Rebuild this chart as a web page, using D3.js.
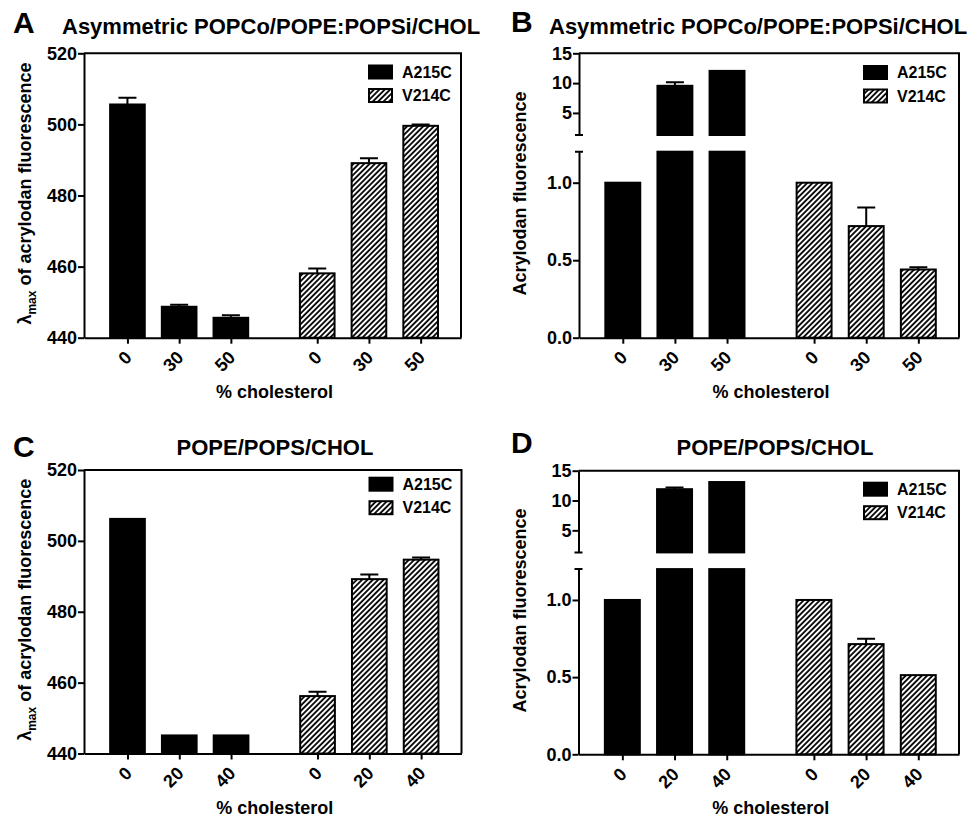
<!DOCTYPE html>
<html>
<head>
<meta charset="utf-8">
<script src="https://cdn.jsdelivr.net/npm/d3@7"></script>
<style>
body { margin: 0; background: #fff; }
svg text { font-family: "Liberation Sans", Arial, sans-serif; font-weight: bold; fill: #000; }
</style>
</head>
<body>
<div id="chart"></div>
<script>
let width = 969;
let height = 819;

// datos
const series = ["A215C", "V214C"];
const ticksAsym = ["0", "30", "50"];
const ticksSym = ["0", "20", "40"];
const titleAsym = "Asymmetric POPCo/POPE:POPSi/CHOL";
const titleSym = "POPE/POPS/CHOL";

const lambdaA_A215C = [505.6, 448.7, 445.6];
const lambdaA_A215C_err = [1.9, 0.6, 0.7];
const lambdaA_V214C = [458.1, 489.1, 499.6];
const lambdaA_V214C_err = [1.4, 1.4, 0.4];

const fluoB_A215C = [1.0, 9.55, 12.05];
const fluoB_A215C_err = [0, 0.6, 0];
const fluoB_V214C = [1.0, 0.72, 0.44];
const fluoB_V214C_err = [0, 0.12, 0.015];

const lambdaC_A215C = [506.2, 445.1, 445.1];
const lambdaC_A215C_err = [0, 0, 0];
const lambdaC_V214C = [456.2, 489.2, 494.7];
const lambdaC_V214C_err = [1.2, 1.3, 0.6];

const fluoD_A215C = [1.0, 11.9, 13.1];
const fluoD_A215C_err = [0, 0.3, 0];
const fluoD_V214C = [1.0, 0.714, 0.513];
const fluoD_V214C_err = [0, 0.035, 0];

const lambdaTicks = [440, 460, 480, 500, 520];
const fluoLowTicks = [0, 0.5, 1.0];
const fluoHighTicks = [5, 10, 15];

const panels = [
    {letter: "A", title: titleAsym, left: 84, right: 461, top: 53.3, bottom: 337.7, broken: false,
     means: [lambdaA_A215C, lambdaA_V214C], errs: [lambdaA_A215C_err, lambdaA_V214C_err], ticks: ticksAsym,
     letterPos: [13, 33], titlePos: [62, 34, "start"], legendTop: 64.5, legendDx: 93},
    {letter: "B", title: titleAsym, left: 579, right: 959, top: 53.3, bottom: 337.7, broken: true,
     means: [fluoB_A215C, fluoB_V214C], errs: [fluoB_A215C_err, fluoB_V214C_err], ticks: ticksAsym,
     letterPos: [511, 32], titlePos: [549, 34, "start"], legendTop: 65, legendDx: 96},
    {letter: "C", title: titleSym, left: 84, right: 461.5, top: 470, bottom: 753.5, broken: false,
     means: [lambdaC_A215C, lambdaC_V214C], errs: [lambdaC_A215C_err, lambdaC_V214C_err], ticks: ticksSym,
     letterPos: [13, 456.5], titlePos: [275, 455, "middle"], legendTop: 476.7, legendDx: 93},
    {letter: "D", title: titleSym, left: 578.5, right: 959, top: 470.7, bottom: 754.3, broken: true,
     means: [fluoD_A215C, fluoD_V214C], errs: [fluoD_A215C_err, fluoD_V214C_err], ticks: ticksSym,
     letterPos: [511, 453], titlePos: [775, 455, "middle"], legendTop: 481.7, legendDx: 96}
];

let svg = d3.select("#chart").append("svg")
    .attr("width", width)
    .attr("height", height);

// rayado de las barras V214C
let pat = svg.append("defs").append("pattern")
    .attr("id", "hatch")
    .attr("patternUnits", "userSpaceOnUse")
    .attr("width", 3.8)
    .attr("height", 3.8)
    .attr("patternTransform", "rotate(45)");
pat.append("rect").attr("width", 3.8).attr("height", 3.8).attr("fill", "#fff");
pat.append("line").attr("x1", 1).attr("y1", 0).attr("x2", 1).attr("y2", 3.8)
    .attr("stroke", "#000").attr("stroke-width", 1.8);

panels.forEach(drawPanel);

function fillFor(s) {
    return s == 0 ? "#000" : "url(#hatch)";
}

function styleAxis(sel, size) {
    sel.attr("font-size", size).attr("font-family", null);
    sel.select(".domain").attr("stroke", "#000").attr("stroke-width", 2);
    sel.selectAll(".tick line").attr("stroke", "#000").attr("stroke-width", 2);
    sel.selectAll(".tick text").attr("fill", "#000");
}

function drawPanel(p) {
    let g = svg.append("g");
    let x = d3.scaleLinear().domain([-0.84, 6.45]).range([p.left, p.right]);
    let bw = x(0.67) - x(0);

    let bars = [];
    p.means.forEach(function(m, s) {
        m.forEach(function(v, i) {
            bars.push({series: s, slot: s * 3.67 + i, value: v, err: p.errs[s][i], label: p.ticks[i]});
        });
    });

    let barG = g.append("g");
    let errG = g.append("g");

    function drawBar(d, y, y0, yTop) {
        barG.append("rect")
            .attr("x", x(d.slot) - bw / 2)
            .attr("width", bw)
            .attr("y", yTop)
            .attr("height", y0 - yTop)
            .attr("fill", fillFor(d.series))
            .attr("stroke", "#000")
            .attr("stroke-width", 2);
    }

    function drawErr(d, y) {
        if (!(d.err > 0)) return;
        let cx = x(d.slot);
        let yt = y(d.value + d.err);
        errG.append("path")
            .attr("d", `M${cx},${y(d.value)}V${yt}M${cx - 9},${yt}H${cx + 9}`)
            .attr("stroke", "#000")
            .attr("stroke-width", 2)
            .attr("fill", "none");
    }

    if (!p.broken) {
        let y = d3.scaleLinear().domain([440, 520]).range([p.bottom, p.top]);
        bars.forEach(function(d) {
            drawBar(d, y, y(440), y(d.value));
            drawErr(d, y);
        });
        g.append("g")
            .attr("transform", `translate(${p.left},0)`)
            .call(d3.axisLeft(y).tickValues(lambdaTicks).tickSize(6).tickSizeOuter(0).tickPadding(1))
            .call(styleAxis, 18);
    } else {
        let upperBottom = p.top + 81.7;
        let lowerTop = p.top + 98.4;
        let yLow = d3.scaleLinear().domain([0, 1.2]).range([p.bottom, lowerTop]);
        let yHigh = d3.scaleLinear().domain([1.3, 15]).range([upperBottom, p.top]);
        bars.forEach(function(d) {
            if (d.value > 1.2) {
                drawBar(d, yLow, yLow(0), yLow(1.2));
                drawBar(d, yHigh, yHigh(1.3), yHigh(d.value));
                drawErr(d, yHigh);
            } else {
                drawBar(d, yLow, yLow(0), yLow(d.value));
                drawErr(d, yLow);
            }
        });
        g.append("g")
            .attr("transform", `translate(${p.left},0)`)
            .call(d3.axisLeft(yLow).tickValues(fluoLowTicks).tickFormat(d3.format(".1f")).tickSize(6).tickSizeOuter(0).tickPadding(1))
            .call(styleAxis, 18);
        g.append("g")
            .attr("transform", `translate(${p.left},0)`)
            .call(d3.axisLeft(yHigh).tickValues(fluoHighTicks).tickSize(6).tickSizeOuter(0).tickPadding(1))
            .call(styleAxis, 18);
        // marcas del corte
        g.append("path")
            .attr("d", `M${p.left - 4},${upperBottom}H${p.left + 4}M${p.left - 4},${lowerTop}H${p.left + 4}`)
            .attr("stroke", "#000")
            .attr("stroke-width", 2);
    }

    // marco
    g.append("path")
        .attr("d", `M${p.left},${p.top}H${p.right}V${p.bottom}`)
        .attr("stroke", "#000")
        .attr("stroke-width", 2)
        .attr("fill", "none");

    // eje x
    let xAxis = g.append("g")
        .attr("transform", `translate(0,${p.bottom})`)
        .call(d3.axisBottom(x).tickValues(bars.map(d => d.slot)).tickFormat((d, i) => bars[i].label).tickSize(6).tickSizeOuter(0))
        .call(styleAxis, 18);
    xAxis.selectAll(".tick text")
        .attr("x", 0).attr("y", 0).attr("dy", 0)
        .attr("text-anchor", "end")
        .attr("transform", "translate(5,21) rotate(-45)");

    let cx = (p.left + p.right) / 2 + 2;
    g.append("text")
        .attr("x", cx)
        .attr("y", p.bottom + 60)
        .attr("text-anchor", "middle")
        .attr("font-size", 18)
        .text("% cholesterol");

    // eje y: etiqueta
    let cy = (p.top + p.bottom) / 2 - 2;
    let yl = g.append("text")
        .attr("transform", `translate(${p.left - 53},${cy}) rotate(-90)`)
        .attr("text-anchor", "middle")
        .attr("font-size", 18);
    if (!p.broken) {
        yl.append("tspan").text("λ");
        yl.append("tspan").attr("font-size", 12).attr("dy", 5).text("max");
        yl.append("tspan").attr("dy", -5).text(" of acrylodan fluorescence");
    } else {
        yl.text("Acrylodan fluorescence");
    }

    // leyenda
    let lg = g.append("g");
    series.forEach(function(name, s) {
        let ly = p.legendTop + s * 23.5;
        lg.append("rect")
            .attr("x", p.right - p.legendDx + 1)
            .attr("y", ly + 1)
            .attr("width", 23)
            .attr("height", 13)
            .attr("fill", fillFor(s))
            .attr("stroke", "#000")
            .attr("stroke-width", 2);
        lg.append("text")
            .attr("x", p.right - p.legendDx + 34)
            .attr("y", ly + 13)
            .attr("font-size", 16)
            .text(name);
    });

    // letra y titulo
    g.append("text")
        .attr("x", p.letterPos[0])
        .attr("y", p.letterPos[1])
        .attr("font-size", 30)
        .text(p.letter);
    g.append("text")
        .attr("x", p.titlePos[0])
        .attr("y", p.titlePos[1])
        .attr("text-anchor", p.titlePos[2])
        .attr("font-size", 22)
        .text(p.title);
}
</script>
</body>
</html>
